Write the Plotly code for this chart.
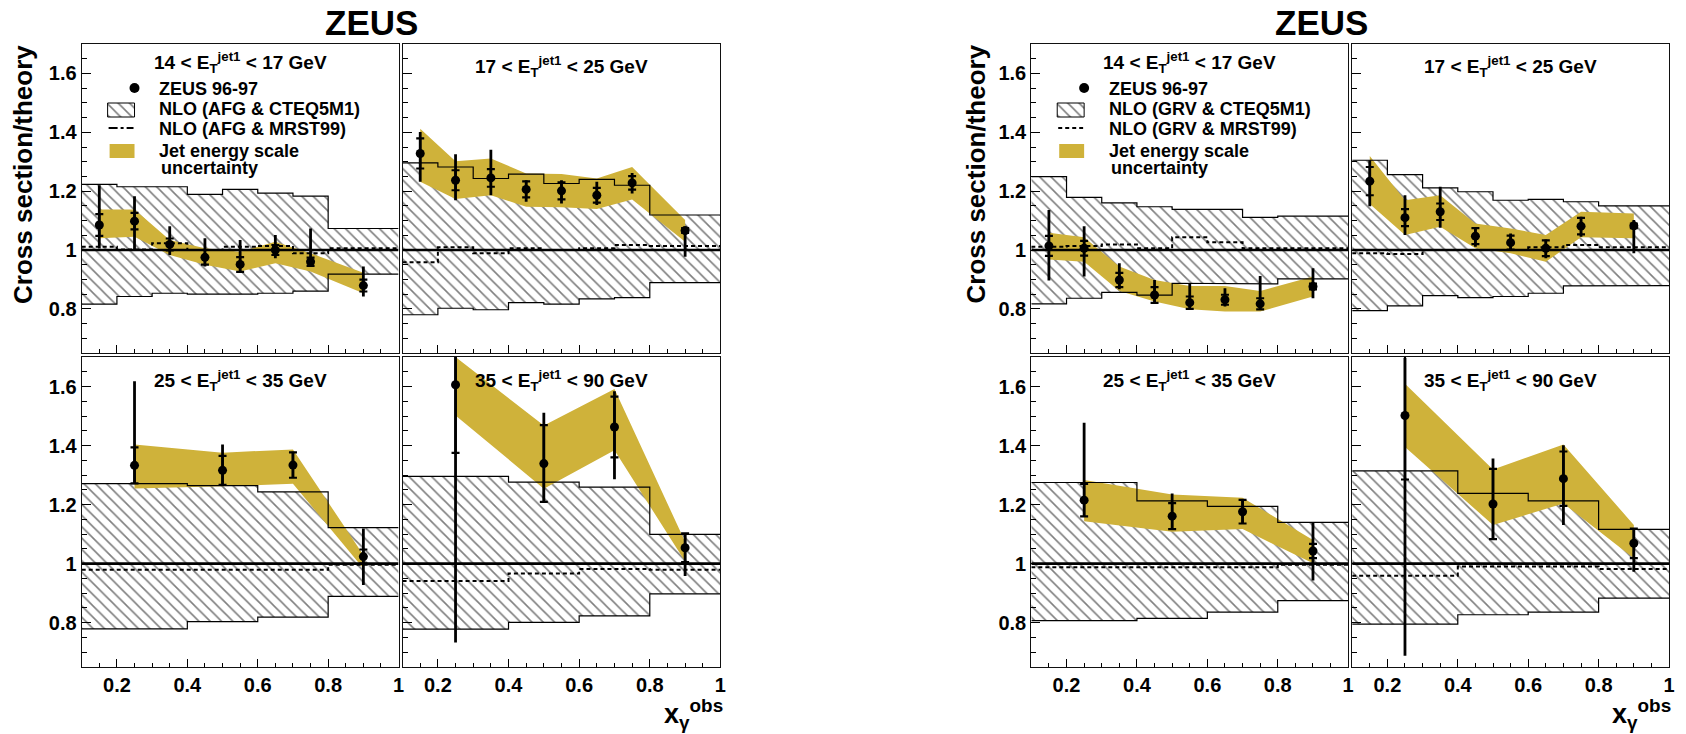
import plotly.graph_objects as go

W, H = 1686, 734

# ---------------- bins ----------------
EDGES_FINE = [0.1, 0.2, 0.3, 0.4, 0.5, 0.6, 0.7, 0.8, 1.0]
EDGES_COARSE = [0.1, 0.4, 0.6, 0.8, 1.0]
X_FINE = [0.15, 0.25, 0.35, 0.45, 0.55, 0.65, 0.75, 0.9]
X_COARSE = [0.25, 0.5, 0.7, 0.9]

PANEL_LABELS = [
    "14 &lt; E<sub>T</sub><sup>jet1</sup> &lt; 17 GeV",
    "17 &lt; E<sub>T</sub><sup>jet1</sup> &lt; 25 GeV",
    "25 &lt; E<sub>T</sub><sup>jet1</sup> &lt; 35 GeV",
    "35 &lt; E<sub>T</sub><sup>jet1</sup> &lt; 90 GeV",
]
LEGEND_LEFT = ["ZEUS 96-97", "NLO (AFG & CTEQ5M1)", "NLO (AFG & MRST99)", "Jet energy scale", "uncertainty"]
LEGEND_RIGHT = ["ZEUS 96-97", "NLO (GRV & CTEQ5M1)", "NLO (GRV & MRST99)", "Jet energy scale", "uncertainty"]

# ---------------- AFG, 14-17 GeV ----------------
afg1_y = [1.085, 1.098, 1.019, 0.975, 0.951, 1.000, 0.960, 0.879]
afg1_stat = [0.037, 0.028, 0.020, 0.025, 0.025, 0.017, 0.014, 0.020]
afg1_up = [0.135, 0.085, 0.062, 0.065, 0.083, 0.051, 0.113, 0.065]
afg1_dn = [0.080, 0.096, 0.036, 0.031, 0.024, 0.028, 0.016, 0.037]
afg1_band_hi = [1.138, 1.138, 1.034, 1.006, 0.994, 1.028, 0.989, 0.923]
afg1_band_lo = [1.040, 1.045, 0.983, 0.950, 0.927, 0.955, 0.927, 0.853]
afg1_nlo_hi = [1.223, 1.215, 1.215, 1.189, 1.206, 1.193, 1.183, 1.073]
afg1_nlo_lo = [0.816, 0.842, 0.853, 0.850, 0.850, 0.853, 0.860, 0.918]
afg1_mrst = [1.011, 1.002, 1.023, 1.000, 1.011, 1.014, 0.989, 1.006]

# ---------------- AFG, 17-25 GeV ----------------
afg2_y = [1.328, 1.237, 1.245, 1.206, 1.201, 1.186, 1.228, 1.066]
afg2_stat = [0.051, 0.034, 0.030, 0.027, 0.029, 0.025, 0.023, 0.008]
afg2_up = [0.073, 0.088, 0.096, 0.031, 0.036, 0.046, 0.034, 0.010]
afg2_dn = [0.096, 0.068, 0.059, 0.042, 0.043, 0.033, 0.036, 0.089]
afg2_band_hi = [1.412, 1.302, 1.311, 1.260, 1.258, 1.243, 1.282, 1.102]
afg2_band_lo = [1.232, 1.173, 1.186, 1.147, 1.145, 1.139, 1.172, 1.028]
afg2_nlo_hi = [1.296, 1.282, 1.243, 1.258, 1.226, 1.240, 1.220, 1.119]
afg2_nlo_lo = [0.780, 0.802, 0.797, 0.821, 0.816, 0.834, 0.838, 0.889]
afg2_mrst = [0.958, 1.009, 0.989, 1.006, 1.000, 1.006, 1.017, 1.014]

# ---------------- AFG, 25-35 GeV ----------------
afg3_y = [1.333, 1.316, 1.334, 1.024]
afg3_stat = [0.061, 0.049, 0.043, 0.024]
afg3_up = [0.285, 0.088, 0.045, 0.095]
afg3_dn = [0.062, 0.050, 0.043, 0.096]
afg3_band_hi = [1.404, 1.376, 1.387, 1.029]
afg3_band_lo = [1.255, 1.262, 1.271, 0.984]
afg3_nlo_hi = [1.271, 1.264, 1.243, 1.122]
afg3_nlo_lo = [0.779, 0.804, 0.819, 0.889]
afg3_mrst = [0.979, 0.979, 0.979, 0.996]

# ---------------- AFG, 35-90 GeV ----------------
afg4_y = [1.606, 1.339, 1.463, 1.054]
afg4_stat = [0.231, 0.130, 0.103, 0.049]
afg4_up = [0.500, 0.172, 0.121, 0.050]
afg4_dn = [0.873, 0.133, 0.177, 0.096]
afg4_band_hi = [1.700, 1.468, 1.592, 1.074]
afg4_band_lo = [1.502, 1.254, 1.384, 1.007]
afg4_nlo_hi = [1.296, 1.276, 1.259, 1.099]
afg4_nlo_lo = [0.778, 0.801, 0.823, 0.898]
afg4_mrst = [0.941, 0.967, 0.982, 0.979]

# ---------------- GRV, 14-17 GeV ----------------
grv1_y = [1.014, 1.006, 0.898, 0.847, 0.821, 0.831, 0.817, 0.876]
grv1_stat = [0.034, 0.025, 0.024, 0.027, 0.021, 0.017, 0.019, 0.010]
grv1_up = [0.122, 0.075, 0.057, 0.051, 0.066, 0.039, 0.095, 0.062]
grv1_dn = [0.118, 0.096, 0.031, 0.026, 0.024, 0.023, 0.020, 0.040]
grv1_band_hi = [1.059, 1.043, 0.944, 0.898, 0.878, 0.878, 0.861, 0.910]
grv1_band_lo = [0.968, 0.960, 0.861, 0.825, 0.799, 0.791, 0.791, 0.842]
grv1_nlo_hi = [1.249, 1.179, 1.160, 1.147, 1.138, 1.138, 1.111, 1.115]
grv1_nlo_lo = [0.817, 0.836, 0.856, 0.847, 0.887, 0.887, 0.885, 0.902]
grv1_mrst = [1.011, 1.014, 1.019, 1.006, 1.043, 1.026, 1.006, 1.006]

# ---------------- GRV, 17-25 GeV ----------------
grv2_y = [1.234, 1.110, 1.130, 1.047, 1.025, 1.006, 1.081, 1.082]
grv2_stat = [0.048, 0.029, 0.028, 0.027, 0.024, 0.027, 0.028, 0.008]
grv2_up = [0.071, 0.076, 0.085, 0.026, 0.031, 0.030, 0.032, 0.020]
grv2_dn = [0.085, 0.059, 0.054, 0.036, 0.025, 0.034, 0.036, 0.093]
grv2_band_hi = [1.319, 1.169, 1.186, 1.090, 1.073, 1.051, 1.130, 1.124]
grv2_band_lo = [1.156, 1.051, 1.079, 1.006, 0.989, 0.960, 1.043, 1.040]
grv2_nlo_hi = [1.305, 1.256, 1.211, 1.198, 1.169, 1.172, 1.164, 1.150]
grv2_nlo_lo = [0.794, 0.810, 0.845, 0.838, 0.842, 0.853, 0.878, 0.879]
grv2_mrst = [0.989, 0.986, 1.000, 1.000, 1.000, 1.009, 1.017, 1.009]

# ---------------- GRV, 25-35 GeV ----------------
grv3_y = [1.215, 1.161, 1.176, 1.043]
grv3_stat = [0.055, 0.044, 0.040, 0.024]
grv3_up = [0.262, 0.077, 0.040, 0.096]
grv3_dn = [0.055, 0.047, 0.040, 0.100]
grv3_band_hi = [1.283, 1.234, 1.223, 1.080]
grv3_band_lo = [1.144, 1.108, 1.117, 1.001]
grv3_nlo_hi = [1.275, 1.213, 1.194, 1.140]
grv3_nlo_lo = [0.807, 0.815, 0.836, 0.875]
grv3_mrst = [0.988, 0.988, 0.988, 0.996]

# ---------------- GRV, 35-90 GeV ----------------
grv4_y = [1.502, 1.202, 1.288, 1.069]
grv4_stat = [0.217, 0.119, 0.092, 0.050]
grv4_up = [0.195, 0.154, 0.113, 0.050]
grv4_dn = [0.814, 0.120, 0.157, 0.096]
grv4_band_hi = [1.609, 1.319, 1.404, 1.131]
grv4_band_lo = [1.395, 1.131, 1.204, 1.018]
grv4_nlo_hi = [1.314, 1.238, 1.213, 1.116]
grv4_nlo_lo = [0.795, 0.827, 0.836, 0.883]
grv4_mrst = [0.959, 0.990, 0.990, 0.982]

# ---------------- styling / geometry ----------------
GOLD = "#cfb23a"
FONT = "Liberation Sans"
XR = [0.1, 1.0]
YR = [0.65, 1.7]

# panel pixel boxes (x0, x1, y0, y1)
PANELS_PX = [
    (82, 400, 44, 353), (404, 723, 44, 353), (82, 400, 357, 667), (404, 723, 357, 667),
    (1035, 1353, 44, 353), (1357, 1675, 44, 353), (1035, 1353, 357, 667), (1357, 1675, 357, 667),
]

panels = [
    dict(edges=EDGES_FINE, x=X_FINE, y=afg1_y, stat=afg1_stat, up=afg1_up, dn=afg1_dn,
         bhi=afg1_band_hi, blo=afg1_band_lo, nhi=afg1_nlo_hi, nlo=afg1_nlo_lo, mrst=afg1_mrst),
    dict(edges=EDGES_FINE, x=X_FINE, y=afg2_y, stat=afg2_stat, up=afg2_up, dn=afg2_dn,
         bhi=afg2_band_hi, blo=afg2_band_lo, nhi=afg2_nlo_hi, nlo=afg2_nlo_lo, mrst=afg2_mrst),
    dict(edges=EDGES_COARSE, x=X_COARSE, y=afg3_y, stat=afg3_stat, up=afg3_up, dn=afg3_dn,
         bhi=afg3_band_hi, blo=afg3_band_lo, nhi=afg3_nlo_hi, nlo=afg3_nlo_lo, mrst=afg3_mrst),
    dict(edges=EDGES_COARSE, x=X_COARSE, y=afg4_y, stat=afg4_stat, up=afg4_up, dn=afg4_dn,
         bhi=afg4_band_hi, blo=afg4_band_lo, nhi=afg4_nlo_hi, nlo=afg4_nlo_lo, mrst=afg4_mrst),
    dict(edges=EDGES_FINE, x=X_FINE, y=grv1_y, stat=grv1_stat, up=grv1_up, dn=grv1_dn,
         bhi=grv1_band_hi, blo=grv1_band_lo, nhi=grv1_nlo_hi, nlo=grv1_nlo_lo, mrst=grv1_mrst),
    dict(edges=EDGES_FINE, x=X_FINE, y=grv2_y, stat=grv2_stat, up=grv2_up, dn=grv2_dn,
         bhi=grv2_band_hi, blo=grv2_band_lo, nhi=grv2_nlo_hi, nlo=grv2_nlo_lo, mrst=grv2_mrst),
    dict(edges=EDGES_COARSE, x=X_COARSE, y=grv3_y, stat=grv3_stat, up=grv3_up, dn=grv3_dn,
         bhi=grv3_band_hi, blo=grv3_band_lo, nhi=grv3_nlo_hi, nlo=grv3_nlo_lo, mrst=grv3_mrst),
    dict(edges=EDGES_COARSE, x=X_COARSE, y=grv4_y, stat=grv4_stat, up=grv4_up, dn=grv4_dn,
         bhi=grv4_band_hi, blo=grv4_band_lo, nhi=grv4_nlo_hi, nlo=grv4_nlo_lo, mrst=grv4_mrst),
]


def steps(edges, vals):
    xs, ys = [], []
    for i, v in enumerate(vals):
        xs += [edges[i], edges[i + 1]]
        ys += [v, v]
    return xs, ys


def px2x(i, px):
    x0, x1, _, _ = PANELS_PX[i]
    return XR[0] + (px - x0) / (x1 - x0) * (XR[1] - XR[0])


def py2y(i, py):
    _, _, y0, y1 = PANELS_PX[i]
    return YR[1] - (py - y0) / (y1 - y0) * (YR[1] - YR[0])


HATCH = dict(shape="\\", size=8, solidity=0.2, fgcolor="black", bgcolor="white")

fig = go.Figure()

for i, p in enumerate(panels):
    k = "" if i == 0 else str(i + 1)
    xa, ya = "x" + k, "y" + k
    # hatched NLO uncertainty band
    xh, yh = steps(p["edges"], p["nhi"])
    xl, yl = steps(p["edges"], p["nlo"])
    fig.add_trace(go.Scatter(x=xh + xl[::-1], y=yh + yl[::-1], fill="toself", mode="lines",
                             line=dict(width=0), fillcolor="white", fillpattern=HATCH,
                             xaxis=xa, yaxis=ya, hoverinfo="skip"))
    # jet energy scale band
    fig.add_trace(go.Scatter(x=p["x"] + p["x"][::-1], y=p["bhi"] + p["blo"][::-1], fill="toself",
                             mode="lines", line=dict(width=0), fillcolor=GOLD,
                             xaxis=xa, yaxis=ya, hoverinfo="skip"))
    # hatched band outline
    for xs, ys in ((xh, yh), (xl, yl)):
        fig.add_trace(go.Scatter(x=xs, y=ys, mode="lines", line=dict(color="black", width=1.2),
                                 xaxis=xa, yaxis=ya, hoverinfo="skip"))
    # MRST99 ratio
    xm, ym = steps(p["edges"], p["mrst"])
    fig.add_trace(go.Scatter(x=xm, y=ym, mode="lines",
                             line=dict(color="black", width=2, dash="4px,3px"),
                             xaxis=xa, yaxis=ya, hoverinfo="skip"))
    # unity line
    fig.add_trace(go.Scatter(x=XR, y=[1, 1], mode="lines", line=dict(color="black", width=2.6),
                             xaxis=xa, yaxis=ya, hoverinfo="skip"))
    # total errors
    fig.add_trace(go.Scatter(x=p["x"], y=p["y"], mode="markers",
                             marker=dict(size=2, color="rgba(0,0,0,0)"),
                             error_y=dict(type="data", array=p["up"], arrayminus=p["dn"],
                                          symmetric=False, color="black", thickness=2.8, width=0),
                             xaxis=xa, yaxis=ya, hoverinfo="skip"))
    # statistical errors
    fig.add_trace(go.Scatter(x=p["x"], y=p["y"], mode="markers",
                             marker=dict(size=9, color="black"),
                             error_y=dict(type="data", array=p["stat"], color="black",
                                          thickness=2.2, width=4),
                             xaxis=xa, yaxis=ya, hoverinfo="skip"))

# ---------------- legends (inside first panel of each figure) ----------------
for i, texts, dash in ((0, LEGEND_LEFT, "dashdot"), (4, LEGEND_RIGHT, "4px,3px")):
    k = "" if i == 0 else str(i + 1)
    xa, ya = "x" + k, "y" + k
    x0 = PANELS_PX[i][0]
    fig.add_trace(go.Scatter(x=[px2x(i, x0 + 53)], y=[py2y(i, 88)], mode="markers",
                             marker=dict(size=10, color="black"), xaxis=xa, yaxis=ya))
    bx = [px2x(i, x0 + 26), px2x(i, x0 + 53), px2x(i, x0 + 53), px2x(i, x0 + 26), px2x(i, x0 + 26)]
    by = [py2y(i, 103), py2y(i, 103), py2y(i, 117), py2y(i, 117), py2y(i, 103)]
    fig.add_trace(go.Scatter(x=bx, y=by, fill="toself", mode="lines", fillcolor="white",
                             fillpattern=HATCH, line=dict(color="black", width=1),
                             xaxis=xa, yaxis=ya))
    fig.add_trace(go.Scatter(x=[px2x(i, x0 + 27), px2x(i, x0 + 52)], y=[py2y(i, 128)] * 2,
                             mode="lines", line=dict(color="black", width=2, dash=dash),
                             xaxis=xa, yaxis=ya))
    gx = [px2x(i, x0 + 28), px2x(i, x0 + 53), px2x(i, x0 + 53), px2x(i, x0 + 28), px2x(i, x0 + 28)]
    gy = [py2y(i, 144), py2y(i, 144), py2y(i, 158), py2y(i, 158), py2y(i, 144)]
    fig.add_trace(go.Scatter(x=gx, y=gy, fill="toself", mode="lines", fillcolor=GOLD,
                             line=dict(width=0), xaxis=xa, yaxis=ya))

annotations = []
for i, texts in ((0, LEGEND_LEFT), (4, LEGEND_RIGHT)):
    x0 = PANELS_PX[i][0]
    for t, py, dx in zip(texts, [89, 109, 129, 151, 168], [76, 76, 76, 76, 78]):
        annotations.append(dict(text="<b>" + t + "</b>", x=(x0 + dx) / W, y=1 - py / H,
                                xref="paper", yref="paper", xanchor="left", yanchor="middle",
                                showarrow=False, font=dict(family=FONT, size=18, color="black")))

# panel labels
label_pos = [(241, 62), (564, 67), (241, 380), (564, 380),
             (1194, 62), (1516, 67), (1194, 380), (1516, 380)]
for i, (cx, cy) in enumerate(label_pos):
    annotations.append(dict(text="<b>" + PANEL_LABELS[i % 4] + "</b>", x=cx / W, y=1 - cy / H,
                            xref="paper", yref="paper", xanchor="center", yanchor="middle",
                            showarrow=False, font=dict(family=FONT, size=19, color="black")))

# titles
for cx in (373, 1326):
    annotations.append(dict(text="<b>ZEUS</b>", x=cx / W, y=1 - 22 / H, xref="paper", yref="paper",
                            xanchor="center", yanchor="middle", showarrow=False,
                            font=dict(family=FONT, size=35, color="black")))
for cx in (23, 979):
    annotations.append(dict(text="<b>Cross section/theory</b>", x=cx / W, y=1 - 174 / H,
                            xref="paper", yref="paper", xanchor="center", yanchor="middle",
                            textangle=-90, showarrow=False,
                            font=dict(family=FONT, size=26, color="black")))
for rx in (728, 1679):
    annotations.append(dict(text="<b>x<sub>γ</sub><sup>obs</sup></b>", x=rx / W, y=1 - 714 / H,
                            xref="paper", yref="paper", xanchor="right", yanchor="middle",
                            showarrow=False, font=dict(family=FONT, size=27, color="black")))

layout = dict(width=W, height=H, margin=dict(l=0, r=0, t=0, b=0), showlegend=False,
              paper_bgcolor="white", plot_bgcolor="white", annotations=annotations)

for i, (x0, x1, y0, y1) in enumerate(PANELS_PX):
    k = "" if i == 0 else str(i + 1)
    left = i in (0, 2, 4, 6)
    bottom = i in (2, 3, 6, 7)
    layout["xaxis" + k] = dict(
        domain=[x0 / W, x1 / W], anchor="y" + k, range=XR, showgrid=False, zeroline=False,
        showline=True, mirror=True, linecolor="#111111", linewidth=1.2,
        ticks="inside", ticklen=8, tickwidth=1.2, tickcolor="black", tick0=0, dtick=0.2,
        showticklabels=bottom, tickfont=dict(family=FONT, size=20, color="black", weight="bold"),
        minor=dict(ticks="inside", ticklen=4, tickwidth=1, tickcolor="black", tick0=0, dtick=0.05),
    )
    layout["yaxis" + k] = dict(
        domain=[1 - y1 / H, 1 - y0 / H], anchor="x" + k, range=YR, showgrid=False, zeroline=False,
        showline=True, mirror=True, linecolor="#111111", linewidth=1.2,
        ticks="inside", ticklen=9, tickwidth=1.2, tickcolor="black", tick0=0, dtick=0.2,
        showticklabels=left, tickfont=dict(family=FONT, size=20, color="black", weight="bold"),
        minor=dict(ticks="inside", ticklen=5, tickwidth=1, tickcolor="black", tick0=0, dtick=0.05),
    )

fig.update_layout(**layout)
fig.write_html("out.html")
